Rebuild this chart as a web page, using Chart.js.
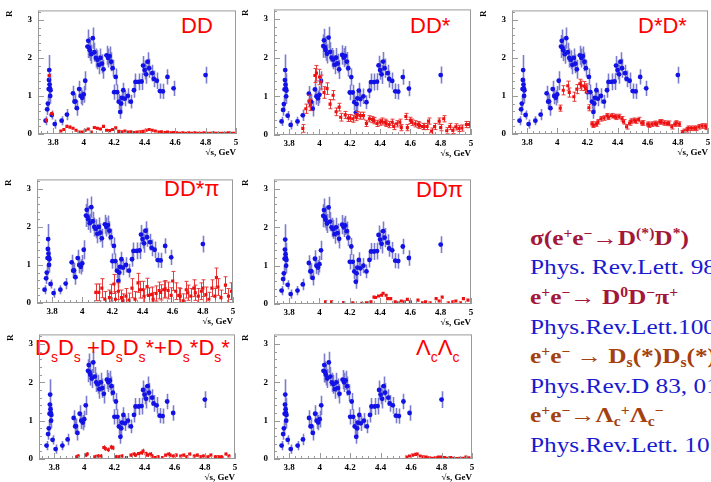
<!DOCTYPE html>
<html>
<head>
<meta charset="utf-8">
<script src="https://cdn.jsdelivr.net/npm/chart.js@4.4.0/dist/chart.umd.min.js"></script>
<style>
html, body { margin: 0; padding: 0; background: #fff; }
body { width: 711px; height: 482px; overflow: hidden; position: relative; font-family: "Liberation Sans", Arial, sans-serif; }
canvas { position: absolute; }
.tag { position: absolute; color: #ff0000; font-size: 22px; line-height: 22px; white-space: nowrap; }
.tag sub { font-size: 14px; line-height: 0; vertical-align: -7px; }
.ref { position: absolute; left: 530px; font-family: "Liberation Serif", "Times New Roman", serif; font-size: 22px; line-height: 22px; white-space: nowrap; transform: scaleX(1.15); transform-origin: 0 0; }
.ref sup { font-size: 0.62em; line-height: 0; vertical-align: 0.55em; }
.ref sub { font-size: 0.62em; line-height: 0; vertical-align: -0.3em; }
.b { font-weight: bold; }
.c1 { color: #a3173a; }
.c2 { color: #a3410f; }
.c3 { color: #1a1ad0; }
</style>
</head>
<body>

<div class="tag" style="left:181px;top:15px">DD</div>
<div class="tag" style="left:410px;top:15px">DD*</div>
<div class="tag" style="left:638px;top:15px">D*D*</div>
<div class="tag" style="left:164px;top:178px">DD*π</div>
<div class="tag" style="left:416px;top:179px">DDπ</div>
<div class="tag" style="left:35px;top:337px">D<sub>s</sub>D<sub>s</sub> +D<sub>s</sub>D<sub>s</sub>*+D<sub>s</sub>*D<sub>s</sub>*</div>
<div class="tag" style="left:416px;top:337px">Λ<sub>c</sub>Λ<sub>c</sub></div>

<div class="ref b c1" style="top:226.6px">σ(e<sup>+</sup>e<sup>−</sup>→D<sup>(*)</sup>D<sup>*</sup>)</div>
<div class="ref c3" style="top:256.1px">Phys. Rev.Lett. 98</div>
<div class="ref b c1" style="top:285.6px">e<sup>+</sup>e<sup>−</sup>→ D<sup>0</sup>D<sup>−</sup>π<sup>+</sup></div>
<div class="ref c3" style="top:315.6px">Phys.Rev.Lett.100</div>
<div class="ref b c2" style="top:345.1px">e<sup>+</sup>e<sup>−</sup> → D<sub>s</sub>(*)D<sub>s</sub>(*)</div>
<div class="ref c3" style="top:374.6px">Phys.Rev.D 83, 01</div>
<div class="ref b c2" style="top:404.1px">e<sup>+</sup>e<sup>−</sup>→Λ<sub>c</sub><sup>+</sup>Λ<sub>c</sub><sup>−</sup></div>
<div class="ref c3" style="top:433.6px">Phys.Rev.Lett. 10</div>

<script>
// axis ticks
const xTickVals = [3.8, 4.0, 4.2, 4.4, 4.6, 4.8, 5.0];
const xTickLabels = ['3.8', '4', '4.2', '4.4', '4.6', '4.8', '5'];
const yTickVals = [0, 1, 2, 3];
const yTickLabels = ['0', '1', '2', '3'];

// R (blue), same in every panel
const blueE = [
  3.75, 3.76, 3.765, 3.77, 3.772, 3.774, 3.776, 3.778, 3.78, 3.782,
  3.79, 3.81, 3.855, 3.89, 3.93, 3.94, 3.945, 3.955, 3.97, 3.98,
  3.99, 4.00, 4.01, 4.025, 4.03, 4.035, 4.04, 4.05, 4.06, 4.07,
  4.08, 4.09, 4.10, 4.11, 4.12, 4.13, 4.15, 4.16, 4.17, 4.18,
  4.19, 4.20, 4.21, 4.22, 4.23, 4.24, 4.245, 4.25, 4.26, 4.27,
  4.29, 4.31, 4.33, 4.34, 4.36, 4.38, 4.39, 4.40, 4.41, 4.42,
  4.43, 4.45, 4.46, 4.48, 4.50, 4.52, 4.55, 4.59, 4.80];
const blueR = [
  0.35, 0.65, 0.80, 1.18, 1.42, 1.68, 1.30, 1.20, 1.00, 1.15,
  0.50, 0.26, 0.35, 0.51, 1.07, 0.85, 0.86, 0.68, 1.18, 1.00,
  0.95, 1.04, 1.40, 2.30, 2.45, 2.27, 2.20, 2.10, 2.52, 2.15,
  2.00, 1.95, 1.82, 2.00, 1.85, 1.70, 2.07, 2.00, 2.05, 1.90,
  1.73, 1.10, 1.50, 1.10, 0.85, 0.58, 0.80, 0.95, 1.15, 0.93,
  1.00, 0.85, 1.15, 1.37, 1.37, 1.38, 1.80, 1.68, 1.57, 1.90,
  1.73, 1.60, 1.45, 1.40, 1.13, 1.12, 1.50, 1.20, 1.55];
const blueErr = [
  0.12, 0.15, 0.20, 0.30, 0.35, 0.40, 0.30, 0.25, 0.20, 0.25,
  0.12, 0.12, 0.12, 0.15, 0.20, 0.20, 0.20, 0.20, 0.22, 0.22,
  0.20, 0.22, 0.25, 0.30, 0.30, 0.28, 0.28, 0.25, 0.28, 0.25,
  0.25, 0.25, 0.25, 0.25, 0.25, 0.25, 0.25, 0.25, 0.25, 0.25,
  0.22, 0.20, 0.22, 0.20, 0.20, 0.18, 0.20, 0.20, 0.20, 0.20,
  0.20, 0.18, 0.20, 0.22, 0.22, 0.22, 0.25, 0.25, 0.25, 0.25,
  0.25, 0.22, 0.22, 0.22, 0.20, 0.20, 0.20, 0.20, 0.22];

// DD
const ddE = [3.755, 3.773, 3.79,
  3.85, 3.87, 3.89, 3.91, 3.93, 3.95, 3.97, 3.99, 4.01, 4.03,
  4.05, 4.07, 4.09, 4.11, 4.13, 4.15, 4.17, 4.19, 4.21, 4.23,
  4.25, 4.27, 4.29, 4.31, 4.33, 4.35, 4.37, 4.39, 4.41, 4.43,
  4.45, 4.47, 4.49, 4.51, 4.53, 4.55, 4.57, 4.59, 4.61, 4.63,
  4.65, 4.67, 4.69, 4.71, 4.73, 4.75, 4.77, 4.79, 4.81, 4.83,
  4.85, 4.87, 4.89, 4.91, 4.93, 4.95, 4.97, 4.99];
const ddR = [0.36, 1.54, 0.54,
  0.08, 0.12, 0.20, 0.18, 0.15, 0.10, 0.05, 0.05, 0.10, 0.13,
  0.05, 0.17, 0.15, 0.13, 0.20, 0.10, 0.09, 0.12, 0.16, 0.07,
  0.06, 0.08, 0.05, 0.06, 0.04, 0.05, 0.06, 0.07, 0.10, 0.12,
  0.10, 0.08, 0.05, 0.06, 0.04, 0.05, 0.03, 0.04, 0.03, 0.02,
  0.03, 0.02, 0.03, 0.02, 0.03, 0.02, 0.02, 0.03, 0.02, 0.02,
  0.03, 0.02, 0.02, 0.02, 0.02, 0.03, 0.02, 0.02];
const ddErr = [0.06, 0.10, 0.06,
  0.03, 0.03, 0.04, 0.04, 0.03, 0.03, 0.03, 0.03, 0.03, 0.03,
  0.03, 0.03, 0.03, 0.03, 0.03, 0.03, 0.03, 0.03, 0.03, 0.03,
  0.02, 0.02, 0.02, 0.02, 0.02, 0.02, 0.02, 0.02, 0.03, 0.03,
  0.03, 0.02, 0.02, 0.02, 0.02, 0.02, 0.02, 0.02, 0.02, 0.02,
  0.02, 0.02, 0.02, 0.02, 0.02, 0.02, 0.02, 0.02, 0.02, 0.02,
  0.02, 0.02, 0.02, 0.02, 0.02, 0.02, 0.02, 0.02];

// DD*
const ddsE = [
  3.89, 3.91, 3.93, 3.94, 3.97, 3.98, 4.00, 4.01, 4.03, 4.05,
  4.07, 4.09, 4.11, 4.13, 4.14, 4.17, 4.19, 4.20, 4.22, 4.24,
  4.25, 4.27, 4.29, 4.31, 4.33, 4.35, 4.36, 4.38, 4.40, 4.41,
  4.43, 4.44, 4.46, 4.48, 4.49, 4.51, 4.53, 4.54, 4.57, 4.58,
  4.60, 4.61, 4.63, 4.65, 4.66, 4.68, 4.69, 4.71, 4.72, 4.74,
  4.76, 4.79, 4.80, 4.82, 4.84, 4.86, 4.88, 4.90, 4.92, 4.94,
  4.97, 4.99];
const ddsR = [
  0.17, 0.68, 0.88, 0.78, 1.54, 1.60, 1.50, 1.37, 1.10, 1.20,
  0.80, 1.03, 0.60, 0.72, 0.46, 0.52, 0.44, 0.44, 0.42, 0.46,
  0.52, 0.50, 0.50, 0.30, 0.42, 0.40, 0.37, 0.30, 0.33, 0.36,
  0.33, 0.30, 0.27, 0.33, 0.22, 0.29, 0.33, 0.19, 0.48, 0.19,
  0.38, 0.33, 0.29, 0.27, 0.25, 0.22, 0.22, 0.22, 0.36, 0.10,
  0.22, 0.36, 0.19, 0.42, 0.11, 0.22, 0.12, 0.21, 0.17, 0.18,
  0.27, 0.27];
const ddsErr = [
  0.10, 0.12, 0.15, 0.15, 0.18, 0.20, 0.20, 0.18, 0.15, 0.15,
  0.12, 0.12, 0.10, 0.10, 0.10, 0.09, 0.09, 0.09, 0.09, 0.09,
  0.09, 0.09, 0.09, 0.08, 0.08, 0.08, 0.08, 0.08, 0.08, 0.08,
  0.08, 0.08, 0.08, 0.08, 0.08, 0.08, 0.08, 0.08, 0.08, 0.08,
  0.08, 0.08, 0.08, 0.08, 0.08, 0.08, 0.08, 0.08, 0.08, 0.08,
  0.08, 0.08, 0.08, 0.08, 0.08, 0.08, 0.08, 0.08, 0.08, 0.08,
  0.08, 0.08];

// D*D*
const dsdsE = [
  4.02, 4.04, 4.07, 4.08, 4.11, 4.13, 4.15, 4.16, 4.18, 4.19,
  4.21, 4.23, 4.24, 4.26, 4.27, 4.29, 4.31, 4.33, 4.34, 4.36,
  4.38, 4.39, 4.41, 4.43, 4.44, 4.46, 4.48, 4.49, 4.51, 4.52,
  4.54, 4.56, 4.57, 4.60, 4.61, 4.63, 4.65, 4.66, 4.68, 4.69,
  4.71, 4.73, 4.74, 4.76, 4.78, 4.79, 4.81, 4.83, 4.84, 4.86,
  4.87, 4.89, 4.91, 4.92, 4.94, 4.96, 4.98, 4.99];
const dsdsR = [
  0.68, 1.15, 1.27, 1.09, 0.98, 1.18, 1.32, 1.27, 1.26, 1.20,
  0.69, 0.27, 0.23, 0.26, 0.32, 0.40, 0.42, 0.48, 0.44, 0.48,
  0.46, 0.44, 0.46, 0.40, 0.32, 0.19, 0.29, 0.34, 0.36, 0.34,
  0.38, 0.29, 0.29, 0.26, 0.23, 0.26, 0.28, 0.26, 0.32, 0.32,
  0.29, 0.28, 0.28, 0.19, 0.26, 0.29, 0.26, 0.03, 0.07, 0.11,
  0.15, 0.15, 0.15, 0.15, 0.19, 0.21, 0.21, 0.18];
const dsdsErr = [
  0.08, 0.12, 0.12, 0.12, 0.12, 0.12, 0.12, 0.12, 0.12, 0.12,
  0.08, 0.06, 0.06, 0.06, 0.06, 0.06, 0.06, 0.06, 0.06, 0.06,
  0.06, 0.06, 0.06, 0.06, 0.06, 0.06, 0.06, 0.06, 0.06, 0.06,
  0.06, 0.06, 0.06, 0.06, 0.06, 0.06, 0.06, 0.06, 0.06, 0.06,
  0.06, 0.06, 0.06, 0.06, 0.06, 0.06, 0.06, 0.06, 0.06, 0.06,
  0.06, 0.06, 0.06, 0.06, 0.06, 0.06, 0.06, 0.06];

// DD*pi
const ddspE = [
  4.09, 4.11, 4.13, 4.15, 4.18, 4.19, 4.21, 4.22, 4.24, 4.26,
  4.27, 4.29, 4.31, 4.33, 4.35, 4.37, 4.38, 4.40, 4.41, 4.43,
  4.44, 4.46, 4.47, 4.49, 4.51, 4.52, 4.54, 4.55, 4.57, 4.59,
  4.60, 4.62, 4.64, 4.65, 4.67, 4.69, 4.70, 4.72, 4.74, 4.75,
  4.77, 4.79, 4.80, 4.82, 4.84, 4.86, 4.88, 4.89, 4.90, 4.92,
  4.95, 4.97, 4.99];
const ddspR = [
  0.28, 0.28, 0.39, 0.10, 0.14, 0.27, 0.50, 0.10, 0.31, 0.14,
  0.06, 0.18, 0.08, 0.39, 0.10, 0.53, 0.35, 0.35, 0.17, 0.43,
  0.20, 0.22, 0.10, 0.25, 0.33, 0.28, 0.35, 0.37, 0.33, 0.20,
  0.58, 0.31, 0.20, 0.18, 0.06, 0.35, 0.27, 0.18, 0.39, 0.27,
  0.18, 0.31, 0.39, 0.22, 0.10, 0.39, 0.18, 0.67, 0.42, 0.14,
  0.47, 0.18, 0.31];
const ddspErr = [
  0.22, 0.22, 0.25, 0.20, 0.20, 0.22, 0.25, 0.20, 0.22, 0.20,
  0.18, 0.20, 0.18, 0.25, 0.20, 0.25, 0.22, 0.22, 0.20, 0.22,
  0.20, 0.20, 0.18, 0.20, 0.22, 0.20, 0.22, 0.22, 0.22, 0.20,
  0.25, 0.22, 0.20, 0.20, 0.18, 0.22, 0.20, 0.20, 0.22, 0.20,
  0.20, 0.22, 0.22, 0.20, 0.18, 0.22, 0.20, 0.25, 0.22, 0.20,
  0.22, 0.20, 0.22];

// DDpi
const ddpE = [
  4.04, 4.08, 4.16, 4.22, 4.28, 4.31, 4.34, 4.36, 4.37, 4.39,
  4.41, 4.42, 4.44, 4.45, 4.47, 4.50, 4.52, 4.54, 4.56, 4.58,
  4.60, 4.65, 4.68, 4.70, 4.73, 4.77, 4.79, 4.81, 4.85, 4.88,
  4.90, 4.93, 4.95, 4.98];
const ddpR = [
  0.06, 0.06, 0.04, 0.03, 0.02, 0.03, 0.06, 0.18, 0.17, 0.21,
  0.23, 0.28, 0.23, 0.14, 0.14, 0.06, 0.03, 0.08, 0.06, 0.12,
  0.06, 0.10, 0.03, 0.06, 0.03, 0.14, 0.08, 0.18, 0.03, 0.06,
  0.08, 0.03, 0.14, 0.10];
const ddpErr = [
  0.02, 0.02, 0.02, 0.02, 0.02, 0.02, 0.02, 0.03, 0.03, 0.03,
  0.03, 0.03, 0.03, 0.03, 0.03, 0.02, 0.02, 0.02, 0.02, 0.03,
  0.02, 0.02, 0.02, 0.02, 0.02, 0.03, 0.02, 0.03, 0.02, 0.02,
  0.02, 0.02, 0.03, 0.02];

// DsDs + DsDs* + Ds*Ds*
const dssE = [
  3.95, 3.96, 4.01, 4.02, 4.07, 4.09, 4.11, 4.13, 4.14, 4.16,
  4.18, 4.19, 4.21, 4.23, 4.25, 4.28, 4.31, 4.33, 4.34, 4.36,
  4.38, 4.39, 4.41, 4.42, 4.44, 4.45, 4.47, 4.49, 4.52, 4.54,
  4.56, 4.57, 4.59, 4.61, 4.64, 4.66, 4.68, 4.70, 4.73, 4.75,
  4.77, 4.79, 4.82, 4.84, 4.87, 4.89, 4.91, 4.94, 4.96];
const dssR = [
  0.06, 0.08, 0.10, 0.13, 0.06, 0.08, 0.08, 0.30, 0.27, 0.24,
  0.31, 0.29, 0.06, 0.06, 0.08, 0.04, 0.10, 0.13, 0.10, 0.14,
  0.16, 0.21, 0.14, 0.10, 0.13, 0.08, 0.04, 0.06, 0.04, 0.10,
  0.13, 0.10, 0.08, 0.10, 0.08, 0.10, 0.06, 0.13, 0.08, 0.10,
  0.06, 0.08, 0.06, 0.10, 0.06, 0.06, 0.06, 0.13, 0.08];
const dssErr = [
  0.05, 0.05, 0.05, 0.05, 0.05, 0.05, 0.05, 0.06, 0.06, 0.06,
  0.06, 0.06, 0.05, 0.05, 0.05, 0.04, 0.05, 0.05, 0.05, 0.05,
  0.05, 0.06, 0.05, 0.05, 0.05, 0.05, 0.04, 0.04, 0.04, 0.04,
  0.05, 0.04, 0.04, 0.04, 0.04, 0.04, 0.04, 0.04, 0.04, 0.04,
  0.04, 0.04, 0.04, 0.04, 0.04, 0.04, 0.04, 0.04, 0.04];

// Lambda_c Lambda_c
const llE = [
  4.57, 4.59, 4.61, 4.63, 4.64, 4.66, 4.68, 4.70, 4.72, 4.74,
  4.76, 4.78, 4.80, 4.82, 4.84, 4.86, 4.88, 4.90, 4.92, 4.94,
  4.96, 4.98];
const llR = [
  0.05, 0.08, 0.10, 0.12, 0.13, 0.08, 0.06, 0.05, 0.03, 0.02,
  0.03, 0.05, 0.05, 0.04, 0.02, 0.04, 0.02, 0.01, 0.02, 0.02,
  0.05, 0.03];
const llErr = [
  0.02, 0.02, 0.02, 0.02, 0.02, 0.02, 0.02, 0.02, 0.02, 0.02,
  0.02, 0.02, 0.02, 0.02, 0.02, 0.02, 0.02, 0.02, 0.02, 0.02,
  0.02, 0.02];

// plot-area boxes on the page (left, top, right, bottom)
const panels = [
  { box: [38, 5, 236, 134],   e: ddE,   r: ddR,   err: ddErr,   cap: 0 },
  { box: [274, 4, 471, 135],  e: ddsE,  r: ddsR,  err: ddsErr,  cap: 2 },
  { box: [512, 5, 708, 134],  e: dsdsE, r: dsdsR, err: dsdsErr, cap: 2 },
  { box: [37, 174, 233, 303], e: ddspE, r: ddspR, err: ddspErr, cap: 2 },
  { box: [274, 174, 471, 304], e: ddpE, r: ddpR,  err: ddpErr,  cap: 0 },
  { box: [39, 329, 235, 459], e: dssE,  r: dssR,  err: dssErr,  cap: 0 },
  { box: [274, 329, 472, 459], e: llE,  r: llR,   err: llErr,   cap: 0 }
];

const tickFont = { family: '"Liberation Serif", "Times New Roman", serif', size: 9, weight: 'bold' };

const errBars = {
  id: 'errBars',
  beforeDatasetDraw(chart, args) {
    const ds = chart.data.datasets[args.index];
    if (!ds.errors) return;
    const { ctx, chartArea: a } = chart;
    const x = chart.scales.x, y = chart.scales.y;
    ctx.save();
    ctx.beginPath();
    ctx.rect(a.left, a.top, a.right - a.left, a.bottom - a.top);
    ctx.clip();
    ctx.strokeStyle = ds.errColor;
    ctx.lineWidth = ds.errWidth;
    ctx.beginPath();
    ds.data.forEach((p, i) => {
      const e = ds.errors[i];
      const px = Math.round(x.getPixelForValue(p.x)) + 0.5;
      const lo = y.getPixelForValue(p.y - e);
      const hi = y.getPixelForValue(p.y + e);
      ctx.moveTo(px, lo);
      ctx.lineTo(px, hi);
      if (ds.cap) {
        ctx.moveTo(px - ds.cap, lo); ctx.lineTo(px + ds.cap, lo);
        ctx.moveTo(px - ds.cap, hi); ctx.lineTo(px + ds.cap, hi);
      }
    });
    ctx.stroke();
    ctx.restore();
  },
  afterDraw(chart) {
    // ROOT-like frame with inner ticks
    const { ctx, chartArea: a } = chart;
    const x = chart.scales.x, y = chart.scales.y;
    ctx.save();
    ctx.strokeStyle = '#9a9a9a';
    ctx.lineWidth = 1;
    ctx.strokeRect(a.left + 0.5, a.top + 0.5, a.right - a.left - 1, a.bottom - a.top - 1);
    ctx.beginPath();
    for (let v = 3.72; v < 5.0; v += 0.04) {
      const px = Math.round(x.getPixelForValue(v)) + 0.5;
      ctx.moveTo(px, a.bottom); ctx.lineTo(px, a.bottom - 3);
    }
    xTickVals.forEach(v => {
      const px = Math.round(x.getPixelForValue(v)) + 0.5;
      ctx.moveTo(px, a.bottom); ctx.lineTo(px, a.bottom - 6);
    });
    for (let v = 0.2; v < 3.25; v += 0.2) {
      const py = Math.round(y.getPixelForValue(v)) + 0.5;
      ctx.moveTo(a.left, py); ctx.lineTo(a.left + 3, py);
    }
    yTickVals.forEach(v => {
      const py = Math.round(y.getPixelForValue(v)) + 0.5;
      ctx.moveTo(a.left, py); ctx.lineTo(a.left + 6, py);
    });
    ctx.stroke();
    ctx.restore();
  }
};

function toPoints(e, r) {
  return e.map((v, i) => ({ x: v, y: r[i] }));
}

panels.forEach(p => {
  const [L, T, R, B] = p.box;
  const c = document.createElement('canvas');
  c.width = (R - L) + 38 + 6;
  c.height = (B - T) + 6 + 28;
  c.style.left = (L - 38) + 'px';
  c.style.top = (T - 6) + 'px';
  document.body.appendChild(c);

  new Chart(c, {
    type: 'scatter',
    data: {
      datasets: [
        {
          data: toPoints(p.e, p.r),
          errors: p.err, errColor: '#e83a3a', errWidth: 1, cap: p.cap,
          pointStyle: 'rect', pointRadius: 2.2, backgroundColor: '#ee1111', borderWidth: 0
        },
        {
          data: toPoints(blueE, blueR),
          errors: blueErr, errColor: 'rgba(80,80,190,0.75)', errWidth: 1.6, cap: 0,
          pointStyle: 'circle', pointRadius: 2.4, backgroundColor: '#1212e6', borderWidth: 0
        }
      ]
    },
    options: {
      responsive: false,
      animation: false,
      devicePixelRatio: 1,
      layout: { padding: { left: 4, top: 6, right: 6, bottom: 4 } },
      plugins: { legend: { display: false }, tooltip: { enabled: false } },
      scales: {
        x: {
          type: 'linear', min: 3.7, max: 5.0,
          afterBuildTicks: s => { s.ticks = xTickVals.map(v => ({ value: v })); },
          afterFit: s => { s.height = 24; },
          grid: { display: false, drawTicks: false },
          border: { display: false },
          ticks: { autoSkip: false, maxRotation: 0, padding: 3, color: '#000', font: tickFont,
                   callback: (v, i) => xTickLabels[i] },
          title: { display: true, text: '√s, GeV', align: 'end', color: '#000', font: tickFont, padding: 0 }
        },
        y: {
          type: 'linear', min: 0, max: 3.25,
          afterBuildTicks: s => { s.ticks = yTickVals.map(v => ({ value: v })); },
          afterFit: s => { s.width = 34; },
          grid: { display: false, drawTicks: false },
          border: { display: false },
          ticks: { autoSkip: false, padding: 6, color: '#000', font: tickFont,
                   callback: (v, i) => yTickLabels[i] },
          title: { display: true, text: 'R', align: 'end', color: '#000', font: tickFont, padding: 0 }
        }
      }
    },
    plugins: [errBars]
  });
});
</script>
</body>
</html>
